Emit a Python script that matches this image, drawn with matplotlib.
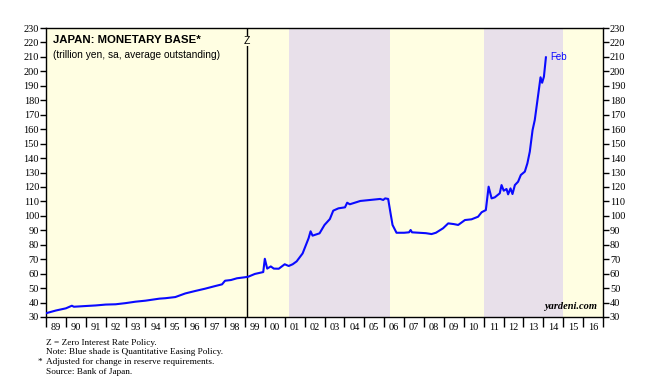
import matplotlib
matplotlib.use("Agg")
import matplotlib.pyplot as plt
from matplotlib.ticker import FixedLocator, NullFormatter

# monetary base, trillion yen (decimal year, value)
dates = [
    1989.0, 1989.5, 1990.0, 1990.3, 1990.4, 1991.0, 1991.5, 1992.0, 1992.5, 1993.0,
    1993.5, 1994.0, 1994.7, 1995.0, 1995.5, 1996.0, 1996.5, 1997.0, 1997.5, 1997.85,
    1998.0, 1998.3, 1998.6, 1999.0, 1999.17, 1999.5, 1999.92, 2000.0, 2000.12, 2000.3,
    2000.45, 2000.7, 2001.0, 2001.2, 2001.4, 2001.6, 2001.9, 2002.1, 2002.2, 2002.3,
    2002.4, 2002.75, 2003.0, 2003.27, 2003.44, 2003.7, 2004.03, 2004.14, 2004.27, 2004.8,
    2005.3, 2005.8, 2005.95, 2006.05, 2006.2, 2006.32, 2006.42, 2006.62, 2007.0, 2007.25,
    2007.33, 2007.4, 2008.1, 2008.38, 2008.6, 2008.96, 2009.22, 2009.5, 2009.72, 2010.06,
    2010.39, 2010.72, 2010.9, 2011.11, 2011.25, 2011.4, 2011.56, 2011.81, 2011.9, 2012.01,
    2012.15, 2012.23, 2012.35, 2012.45, 2012.57, 2012.73, 2012.87, 2013.07, 2013.2, 2013.32,
    2013.46, 2013.57, 2013.74, 2013.86, 2013.94, 2014.03, 2014.13,
]
values = [
    32.6, 34.5, 36.0, 37.8, 37.1, 37.6, 38.0, 38.6, 38.8, 39.6,
    40.6, 41.3, 42.7, 43.0, 43.8, 46.3, 48.0, 49.6, 51.4, 52.6,
    55.1, 55.6, 56.8, 57.5, 57.9, 59.8, 61.1, 70.3, 63.5, 65.0,
    63.5, 63.4, 66.5, 65.3, 66.5, 68.5, 74.0, 81.0, 84.5, 89.3,
    86.3, 87.9, 93.7, 97.8, 103.6, 105.2, 105.9, 109.1, 108.0, 110.3,
    111.0, 111.7, 111.0, 112.1, 111.7, 101.8, 93.7, 88.3, 88.3, 88.6,
    90.2, 88.6, 88.0, 87.4, 88.3, 91.4, 94.8, 94.3, 93.7, 97.1,
    97.6, 99.4, 102.5, 104.0, 120.2, 112.1, 112.8, 115.6, 121.3, 117.4,
    118.6, 114.9, 119.0, 115.1, 121.3, 123.6, 128.3, 130.6, 136.4, 144.4,
    159.4, 166.3, 183.6, 195.9, 192.1, 196.3, 209.7,
]

qe_periods = [(2001.2, 2006.3), (2011.0, 2015.0)]
zirp_start = 1999.1
years = list(range(1989, 2017))
y_ticks = list(range(30, 240, 10))

footnotes = [
    "Z = Zero Interest Rate Policy.",
    "Note: Blue shade is Quantitative Easing Policy.",
    "Adjusted for change in reserve requirements.",
    "Source: Bank of Japan.",
]

serif = "Liberation Serif"
sans = "Liberation Sans"
bg = "#fffee2"

fig = plt.figure(figsize=(6.49, 3.90), dpi=100)
ax = fig.add_axes([46 / 649, 1 - 317 / 390, 557 / 649, 289 / 390])
ax.set_facecolor(bg)

for start, end in qe_periods:
    ax.axvspan(start, end, color="#e8e0ea", lw=0, zorder=0)

ax.axvline(zirp_start, color="black", lw=1.0, zorder=2)
ax.text(zirp_start, 221, "Z", ha="center", va="center", fontsize=7.5, family=sans,
        bbox=dict(facecolor=bg, edgecolor="none", pad=0.3), zorder=3)

ax.plot(dates, values, color="#0a0aff", lw=1.5, zorder=4)
ax.text(dates[-1] + 0.2, values[-1] + 0.5, "Feb", color="#0a0aff", fontsize=7, family=sans,
        ha="left", va="center")

ax.set_xlim(1989, 2017)
ax.set_ylim(30, 230)

# x axis: ticks at year boundaries, labels mid-year
ax.xaxis.set_major_locator(FixedLocator(years + [2017]))
ax.xaxis.set_major_formatter(NullFormatter())
ax.xaxis.set_minor_locator(FixedLocator([y + 0.5 for y in years]))
ax.set_xticklabels(["%02d" % (y % 100) for y in years], minor=True)
ax.tick_params(axis="x", which="major", direction="out", length=7, width=1)
ax.tick_params(axis="x", which="minor", length=0, pad=4, labelsize=7.5)

ax.set_yticks(y_ticks)
ax.tick_params(axis="y", which="both", direction="out", length=4, width=1,
               labelsize=7.5, left=True, right=True, labelleft=True, labelright=True, pad=1)

for lbl in ax.get_xticklabels(minor=True) + ax.get_yticklabels():
    lbl.set_family(serif)
for spine in ax.spines.values():
    spine.set_linewidth(1.0)

ax.text(0.012, 0.975, "JAPAN: MONETARY BASE*", transform=ax.transAxes, fontsize=8.2,
        fontweight="bold", family=sans, va="top", ha="left")
ax.text(0.012, 0.925, "(trillion yen, sa, average outstanding)", transform=ax.transAxes,
        fontsize=7.25, family=sans, va="top", ha="left")
ax.text(0.99, 0.02, "yardeni.com", transform=ax.transAxes, fontsize=7.5, family=serif,
        fontweight="bold", style="italic", ha="right", va="bottom")

ys = [343, 352.5, 362, 371.5]
for y, note in zip(ys, footnotes):
    fig.text(46 / 649, 1 - y / 390, note, fontsize=6.7, family=serif, va="center")
fig.text(38 / 649, 1 - 362 / 390, "*", fontsize=6.7, family=serif, va="center")

fig.savefig("out.png", dpi=100)
